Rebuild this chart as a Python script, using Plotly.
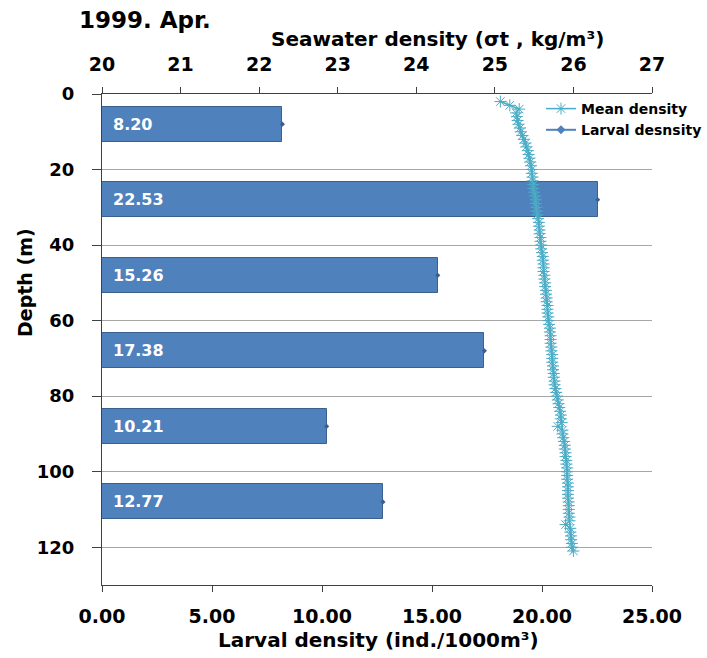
import plotly.graph_objects as go

# Larval density per depth layer (bars, bottom axis)
layer_depth = [8, 28, 48, 68, 88, 108]
larval_density = [8.20, 22.53, 15.26, 17.38, 10.21, 12.77]

# Mean seawater density profile (sigma-t, top axis)
profile_depth = list(range(2, 122))
sigma_t = [
    25.07, 25.19, 25.31, 25.27, 25.28, 25.29, 25.30, 25.32, 25.33, 25.35,
    25.37, 25.39, 25.40, 25.42, 25.43, 25.44, 25.45, 25.46, 25.47, 25.47,
    25.48, 25.48, 25.49, 25.49, 25.50, 25.51, 25.52, 25.52, 25.53, 25.53,
    25.54, 25.55, 25.56, 25.56, 25.57, 25.57, 25.58, 25.58, 25.59, 25.59,
    25.60, 25.61, 25.61, 25.62, 25.62, 25.62, 25.63, 25.63, 25.64, 25.64,
    25.65, 25.65, 25.66, 25.66, 25.67, 25.67, 25.67, 25.68, 25.68, 25.69,
    25.70, 25.70, 25.71, 25.71, 25.71, 25.72, 25.72, 25.73, 25.73, 25.73,
    25.74, 25.74, 25.75, 25.75, 25.76, 25.76, 25.77, 25.78, 25.79, 25.80,
    25.81, 25.82, 25.83, 25.84, 25.84, 25.85, 25.80, 25.86, 25.86, 25.87,
    25.88, 25.89, 25.89, 25.90, 25.90, 25.91, 25.91, 25.92, 25.92, 25.92,
    25.92, 25.93, 25.93, 25.93, 25.93, 25.93, 25.94, 25.94, 25.94, 25.94,
    25.95, 25.95, 25.90, 25.96, 25.96, 25.97, 25.97, 25.98, 25.98, 26.00,
]

depth_ticks = [0, 20, 40, 60, 80, 100, 120]
larval_ticks = [0, 5, 10, 15, 20, 25]
sigma_ticks = [20, 21, 22, 23, 24, 25, 26, 27]

FONT = "DejaVu Sans"
BAR_BLUE = "#4f81bd"
LINE_CYAN = "#4bacc6"

W, H = 707, 658
ML, MR, MT, MB = 102, 55, 94, 73
plot_w = W - ML - MR
plot_h = H - MT - MB


def px(xp):
    return (xp - ML) / plot_w


def py(yp):
    return (H - MB - yp) / plot_h


fig = go.Figure()

fig.add_trace(go.Bar(
    x=larval_density, y=layer_depth, orientation="h", width=9.3,
    marker=dict(color=BAR_BLUE, line=dict(color="#3b6090", width=1)),
    showlegend=False, xaxis="x", yaxis="y",
))

# small end markers on the bars
fig.add_trace(go.Scatter(
    x=larval_density, y=layer_depth, mode="markers",
    marker=dict(symbol="diamond", size=4, color="#3b6090"),
    showlegend=False, xaxis="x", yaxis="y",
))

fig.add_trace(go.Scatter(
    x=sigma_t, y=profile_depth, mode="lines+markers", name="Mean density",
    line=dict(color=LINE_CYAN, width=1.5),
    marker=dict(symbol="asterisk-open", size=10,
                line=dict(color="#6ccbe3", width=1)),
    xaxis="x2", yaxis="y",
))

# legend entry for the larval series
fig.add_trace(go.Scatter(
    x=[None], y=[None], mode="lines+markers", name="Larval desnsity",
    line=dict(color=BAR_BLUE, width=2),
    marker=dict(symbol="diamond", size=7, color=BAR_BLUE),
    xaxis="x", yaxis="y",
))

annotations = []
for v, d in zip(larval_density, layer_depth):
    annotations.append(dict(
        x=0, y=d, xref="x", yref="y", text=f"<b>{v:.2f}</b>",
        xanchor="left", yanchor="middle", xshift=9, showarrow=False,
        font=dict(family=FONT, size=16, color="white"),
    ))

annotations += [
    dict(text="<b>1999. Apr.</b>", x=px(77), y=py(20), xref="paper",
         yref="paper", xanchor="left", yanchor="middle", showarrow=False,
         font=dict(family=FONT, size=23, color="black")),
    dict(text="<b>Seawater density (σt , kg/m³)</b>", x=px(437), y=py(39),
         xref="paper", yref="paper", xanchor="center", yanchor="middle",
         showarrow=False, font=dict(family=FONT, size=20, color="black")),
    dict(text="<b>Larval density (ind./1000m³)</b>", x=px(378), y=py(640),
         xref="paper", yref="paper", xanchor="center", yanchor="middle",
         showarrow=False, font=dict(family=FONT, size=20, color="black")),
    dict(text="<b>Depth (m)</b>", x=px(25), y=py(282), xref="paper",
         yref="paper", xanchor="center", yanchor="middle", textangle=-90,
         showarrow=False, font=dict(family=FONT, size=19, color="black")),
]

xtickfont = dict(family=FONT, size=19, color="black", weight="bold")
ytickfont = dict(family=FONT, size=18, color="black", weight="bold")

fig.update_layout(
    width=W, height=H,
    margin=dict(l=ML, r=MR, t=MT, b=MB, autoexpand=False),
    paper_bgcolor="white", plot_bgcolor="white",
    bargap=0,
    xaxis=dict(
        range=[0, 25], tickvals=larval_ticks, tickformat=".2f",
        showline=True, linecolor="#404040", linewidth=1,
        ticks="outside", ticklen=6, tickcolor="#404040",
        showgrid=False, zeroline=False, tickfont=xtickfont,
        ticklabelstandoff=8, automargin=False,
    ),
    xaxis2=dict(
        range=[20, 27], tickvals=sigma_ticks, overlaying="x", side="top",
        showline=True, linecolor="#404040", linewidth=1,
        ticks="outside", ticklen=6, tickcolor="#404040",
        showgrid=False, zeroline=False, tickfont=xtickfont,
        ticklabelstandoff=8, automargin=False,
    ),
    yaxis=dict(
        range=[130, 0], tickvals=depth_ticks,
        showline=True, linecolor="#404040", linewidth=1,
        ticks="outside", ticklen=9, tickcolor="#404040",
        showgrid=True, gridcolor="#a6a6a6", gridwidth=1,
        zeroline=False, tickfont=ytickfont, ticklabelstandoff=14,
        automargin=False,
    ),
    legend=dict(
        x=px(541), y=py(93), xanchor="left", yanchor="top",
        bgcolor="rgba(0,0,0,0)", tracegroupgap=0,
        font=dict(family=FONT, size=14, color="black", weight="bold"),
        itemwidth=30,
    ),
    annotations=annotations,
)

fig.write_html("out.html")
